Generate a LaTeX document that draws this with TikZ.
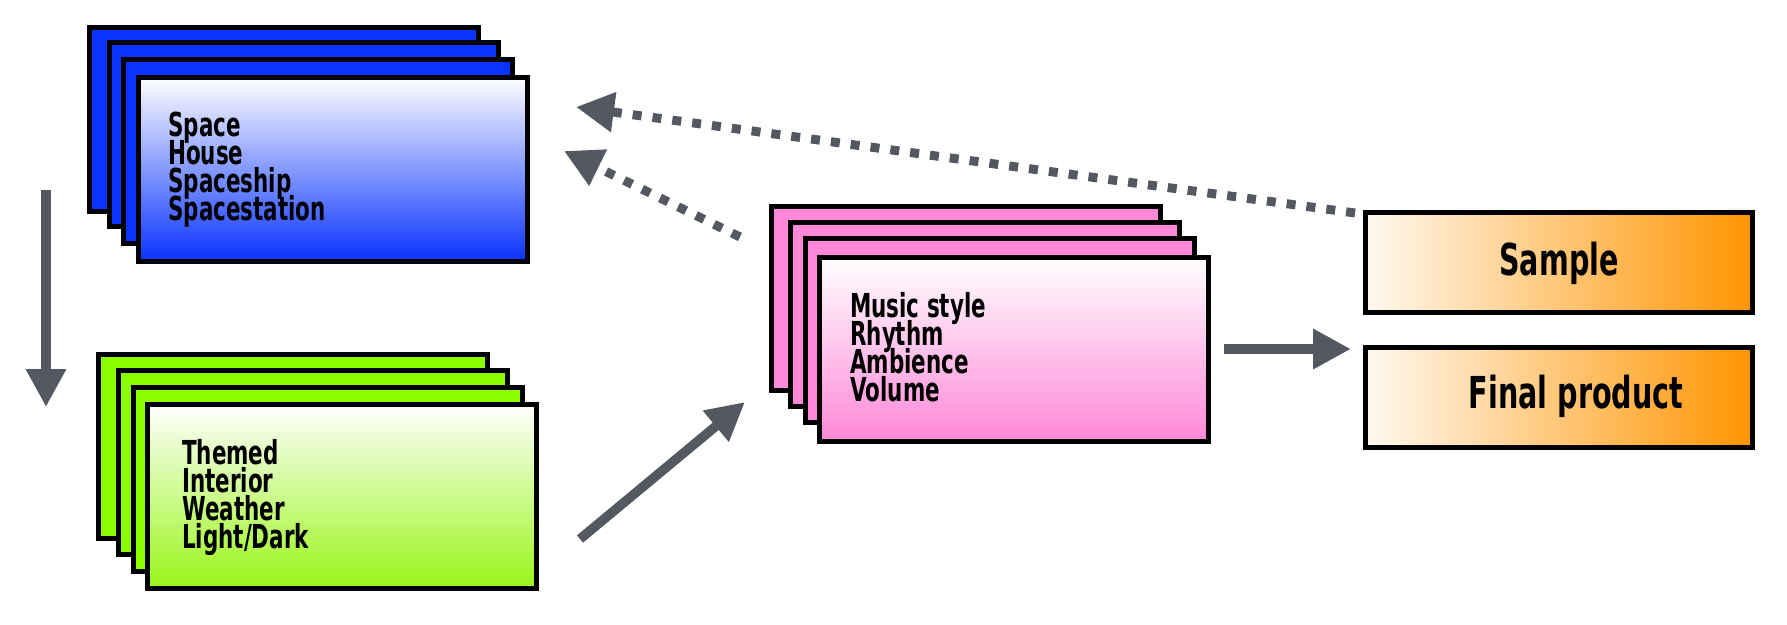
\documentclass[tikz,border=0pt]{standalone}
\usepackage{fontspec}
\newfontfamily\hand[FakeStretch=0.65]{DejaVu Sans}
\usetikzlibrary{arrows.meta}
\definecolor{cblue}{HTML}{0A33FF}
\definecolor{cgreen}{HTML}{8CFC00}
\definecolor{cgreenb}{HTML}{99F519}
\definecolor{cpink}{HTML}{FF88D8}
\definecolor{corange}{HTML}{FF9400}
\definecolor{corangel}{HTML}{FFF9F0}
\definecolor{agray}{HTML}{545961}
\begin{document}
\begin{tikzpicture}[x=1pt,y=-1pt,
 card/.style={draw=black,line width=5pt,minimum width=389pt,minimum height=184pt,inner sep=0pt},
 pbox/.style={draw=black,line width=5pt,minimum width=387pt,minimum height=100pt,inner sep=0pt,left color=corangel,right color=corange},
 listtext/.style={anchor=north west,inner sep=0pt,align=left,font={\hand\bfseries\fontsize{33pt}{28pt}\selectfont\lineskiplimit=-40pt}},
 boxtext/.style={anchor=base,inner sep=0pt,font={\hand\bfseries\fontsize{44pt}{44pt}\selectfont}},
 flow/.style={draw=agray,line width=9.5pt,-{Triangle[length=38pt,width=38pt]}},
 backflow/.style={flow,line width=9pt,dash pattern=on 9pt off 11pt}]
\path[fill=white,use as bounding box] (0,0) rectangle (1787,624);
% blue stack
\node[card,fill=cblue] (b1) at (284,119) {};
\node[card,fill=cblue] (b2) at (303.5,134.5) {};
\node[card,fill=cblue] (b3) at (317.5,151.5) {};
\node[card,top color=white,bottom color=cblue] (b4) at (332.5,169) {};
\node[listtext] (btxt) at (168,112) {Space\\House\\Spaceship\\Spacestation};
% green stack
\node[card,fill=cgreen] (g1) at (293,446) {};
\node[card,fill=cgreen] (g2) at (313,462) {};
\node[card,fill=cgreen] (g3) at (327.5,479) {};
\node[card,top color=white,bottom color=cgreenb] (g4) at (342,496) {};
\node[listtext] (gtxt) at (182,439) {Themed\\Interior\\Weather\\Light/Dark};
% pink stack
\node[card,fill=cpink] (p1) at (965.5,298.5) {};
\node[card,fill=cpink] (p2) at (984.5,314) {};
\node[card,fill=cpink] (p3) at (999.5,330.5) {};
\node[card,top color=white,bottom color=cpink] (p4) at (1013.5,349) {};
\node[listtext] (ptxt) at (850,292) {Music style\\Rhythm\\Ambience\\Volume};
% result boxes
\node[pbox] (sample) at (1559,262.5) {};
\node[boxtext] (stxt) at (1559,275) {Sample};
\node[pbox] (final) at (1559,397) {};
\node[boxtext] (ftxt) at (1576,408) {Final product};
% connectors
\coordinate (d1) at (46,190); \coordinate (d2) at (46,407);
\draw[flow] (d1) -- (d2);
\coordinate (e1) at (580,539); \coordinate (e2) at (745,402);
\draw[flow] (e1) -- (e2);
\coordinate (h1) at (1224,349); \coordinate (h2) at (1351,349);
\draw[flow] (h1) -- (h2);
\coordinate (s1) at (1355,213); \coordinate (s2) at (576,107);
\draw[backflow] (s1) -- (s2);
\coordinate (m1) at (740,237); \coordinate (m2) at (564,151);
\draw[backflow] (m1) -- (m2);
\end{tikzpicture}
\end{document}
